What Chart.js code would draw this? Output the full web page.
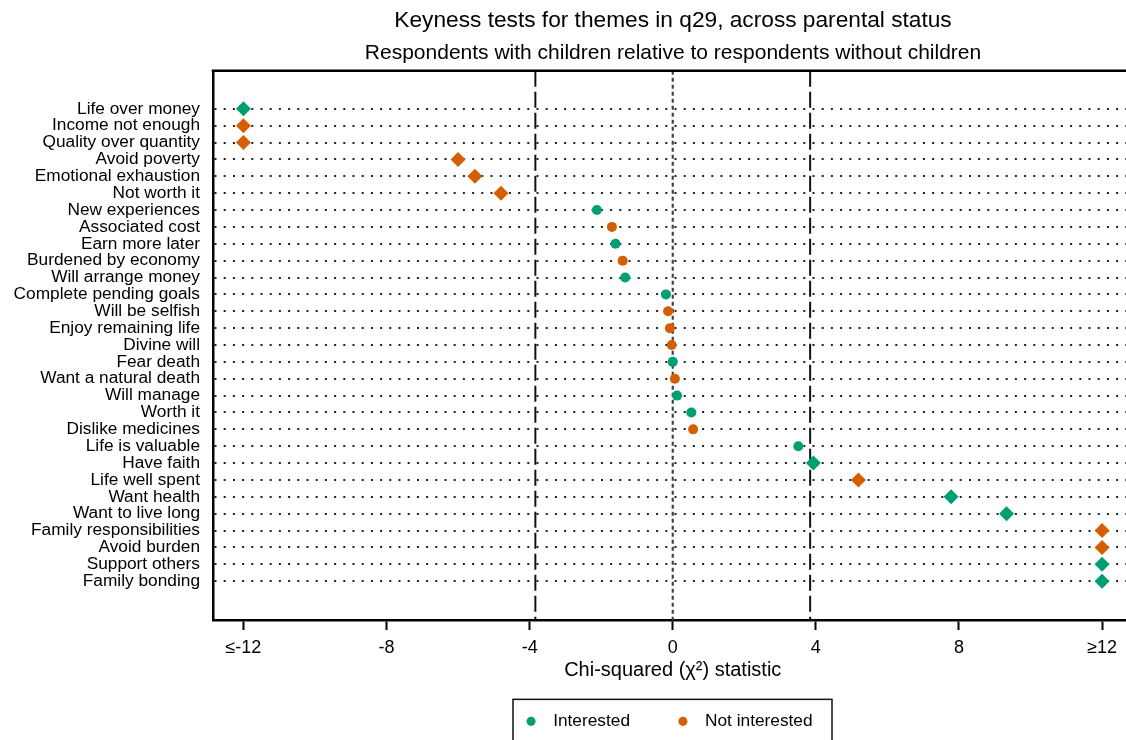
<!DOCTYPE html>
<html><head><meta charset="utf-8">
<script src="https://cdn.jsdelivr.net/npm/chart.js@4"></script>
<style>
html,body{margin:0;padding:0;overflow:hidden;background:#fff;width:1126px;height:740px}
#wrap{position:absolute;left:0;top:0;width:1346px;height:740px}
</style>
</head><body><div id="wrap"><canvas id="c" width="1346" height="740"></canvas></div>
<script>
// ---------- data ----------
const themes = [
  'Life over money','Income not enough','Quality over quantity','Avoid poverty',
  'Emotional exhaustion','Not worth it','New experiences','Associated cost',
  'Earn more later','Burdened by economy','Will arrange money','Complete pending goals',
  'Will be selfish','Enjoy remaining life','Divine will','Fear death',
  'Want a natural death','Will manage','Worth it','Dislike medicines',
  'Life is valuable','Have faith','Life well spent','Want health',
  'Want to live long','Family responsibilities','Avoid burden','Support others','Family bonding'
];
const chiValues = [
  -12, -12, -12, -6.0,
  -5.53, -4.80, -2.12, -1.70,
  -1.60, -1.40, -1.33, -0.19,
  -0.13, -0.08, -0.03, 0.0,
  0.06, 0.12, 0.52, 0.57,
  3.51, 3.93, 5.19, 7.78,
  9.33, 12, 12, 12, 12
];
const groups = [
  'Interested','Not interested','Not interested','Not interested',
  'Not interested','Not interested','Interested','Not interested',
  'Interested','Not interested','Interested','Interested',
  'Not interested','Not interested','Not interested','Interested',
  'Not interested','Interested','Interested','Not interested',
  'Interested','Interested','Not interested','Interested',
  'Interested','Not interested','Not interested','Interested','Interested'
];
const seriesNames = ['Interested','Not interested'];
const xTickValues = [-12,-8,-4,0,4,8,12];
const xTickLabels = ['\u2264-12','-8','-4','0','4','8','\u226512'];
const criticalValues = [-3.84, 3.84];
const zeroValue = 0;

// ---------- styling ----------
const FONT = "'Liberation Sans', Arial, Helvetica, sans-serif";
const COLORS = {'Interested':'#009E73','Not interested':'#D55E00'};
const CRIT = 3.84;
const Y_MIN = -2.25, Y_MAX = 30.3;
const X_MIN = -12.85, X_MAX = 12.85;

const pointDatasets = seriesNames.map(name => {
  const idx = themes.map((t, i) => i).filter(i => groups[i] === name);
  return {
    type: 'scatter',
    label: name,
    data: idx.map(i => ({x: chiValues[i], y: i})),
    backgroundColor: COLORS[name],
    borderColor: COLORS[name],
    borderWidth: 0,
    pointStyle: idx.map(i => Math.abs(chiValues[i]) > CRIT ? 'rectRot' : 'circle'),
    pointRadius: idx.map(i => Math.abs(chiValues[i]) > CRIT ? 7.5 : 5),
    pointHoverRadius: idx.map(i => Math.abs(chiValues[i]) > CRIT ? 7.5 : 5),
    order: 0
  };
});

const refDatasets = criticalValues.map(v => ({
  type: 'line', label: '_crit',
  data: [{x: v, y: Y_MIN}, {x: v, y: Y_MAX}],
  borderColor: '#111', borderWidth: 2, borderDash: [16, 5],
  pointRadius: 0, fill: false, order: 5
}));
refDatasets.push({
  type: 'line', label: '_zero',
  data: [{x: zeroValue, y: Y_MIN}, {x: zeroValue, y: Y_MAX}],
  borderColor: '#444', borderWidth: 2.2, borderDash: [4, 3],
  pointRadius: 0, fill: false, order: 6
});

const LEGEND_SHIFT = -5.5;
const framePlugin = {
  id: 'frame',
  afterLayout(chart) {
    const lg = chart.legend;
    if (lg) { lg.left += LEGEND_SHIFT; lg.right += LEGEND_SHIFT; }
  },
  afterDraw(chart) {
    const {ctx, chartArea} = chart;
    ctx.save();
    ctx.strokeStyle = '#000';
    ctx.lineWidth = 2.5;
    ctx.beginPath();
    ctx.moveTo(chartArea.left - 1.25, chartArea.top);
    ctx.lineTo(chart.width, chartArea.top);
    ctx.stroke();
    // legend frame
    const lg = chart.legend;
    const c = (lg.left + lg.right) / 2;
    const itemCenter = lg.top + lg.options.labels.padding + lg.options.labels.font.size / 2;
    ctx.lineWidth = 1.5;
    ctx.strokeStyle = '#111';
    ctx.strokeRect(c - 154.5, itemCenter - 22, 319, 80);
    ctx.restore();
  }
};

new Chart(document.getElementById('c'), {
  type: 'scatter',
  data: { datasets: [...pointDatasets, ...refDatasets] },
  options: {
    responsive: false,
    devicePixelRatio: 1,
    animation: false,
    events: [],
    layout: { padding: 0 },
    scales: {
      x: {
        type: 'linear', min: X_MIN, max: X_MAX,
        afterBuildTicks: s => { s.ticks = xTickValues.map(v => ({value: v})); },
        afterFit: s => { s.height = 48.45; },
        ticks: {
          autoSkip: false, maxRotation: 0, padding: 7, color: '#000',
          font: {family: FONT, size: 18},
          callback: v => xTickLabels[xTickValues.indexOf(v)]
        },
        grid: { display: true, drawOnChartArea: false, drawTicks: true, tickLength: 10, tickWidth: 2, tickColor: '#000' },
        border: { display: true, color: '#000', width: 2.5 },
        title: { display: true, text: 'Chi-squared (\u03c7\u00b2) statistic', color: '#000',
                 font: {family: FONT, size: 20}, padding: {top: 0, bottom: -13.55} }
      },
      y: {
        type: 'linear', reverse: true, min: Y_MIN, max: Y_MAX,
        afterBuildTicks: s => { s.ticks = themes.map((t, i) => ({value: i})); },
        afterFit: s => { s.width = 213; },
        ticks: {
          autoSkip: false, padding: 13, color: '#000',
          font: {family: FONT, size: 17.3},
          callback: v => themes[v]
        },
        grid: { display: true, drawOnChartArea: true, drawTicks: false, color: '#222', lineWidth: 2, borderDash: [2, 7.2] },
        border: { display: true, color: '#000', width: 2.5, dash: [2, 7.2] }
      },
      yRight: {
        type: 'linear', position: 'right', display: true,
        afterFit: s => { s.width = 213.5; },
        ticks: { display: false },
        grid: { display: false, drawTicks: false },
        border: { display: false }
      }
    },
    plugins: {
      title: {
        display: true, text: 'Keyness tests for themes in q29, across parental status',
        color: '#000', font: {family: FONT, size: 22.7, weight: 'normal'}, padding: {top: 7, bottom: 2}
      },
      subtitle: {
        display: true, text: 'Respondents with children relative to respondents without children',
        color: '#000', font: {family: FONT, size: 21, weight: 'normal'}, padding: {top: 4, bottom: 5.4}
      },
      legend: {
        position: 'bottom',
        labels: {
          usePointStyle: true, pointStyle: 'circle',
          boxWidth: 17.3, boxHeight: 6.4, padding: 44.25,
          color: '#000', font: {family: FONT, size: 17.3},
          generateLabels: chart => Chart.defaults.plugins.legend.labels.generateLabels(chart)
            .filter(item => !item.text.startsWith('_'))
            .map(item => Object.assign(item, {text: ' ' + item.text}))
        }
      },
      tooltip: { enabled: false }
    }
  },
  plugins: [framePlugin]
});
</script>
</body></html>
